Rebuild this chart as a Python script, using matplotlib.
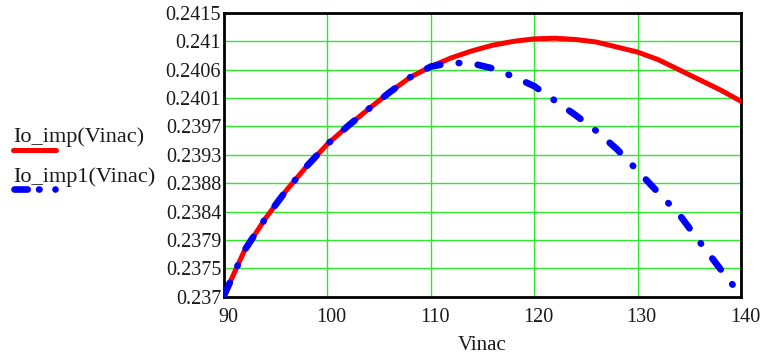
"""
Output current vs. input voltage: Io_imp and Io_imp1 over Vinac.
"""

import numpy as np
import matplotlib.pyplot as plt
from matplotlib.lines import Line2D
from matplotlib.transforms import ScaledTranslation

plt.rcParams["font.family"] = ["Liberation Serif", "DejaVu Serif"]
plt.rcParams["lines.scale_dashes"] = False

# Io_imp(Vinac)
vinac = [90, 92, 94, 96, 98, 100, 102, 104, 106, 108, 110, 112, 114, 116,
         118, 120, 122, 124, 126, 128, 130, 132, 134, 136, 138, 140]
io_imp = [0.23702, 0.23774, 0.23824, 0.23868, 0.23907, 0.23942, 0.23971,
          0.23998, 0.24024, 0.24048, 0.24065, 0.24079, 0.24090, 0.24099,
          0.24105, 0.24109, 0.24110, 0.24108, 0.24104, 0.24096, 0.24088,
          0.24076, 0.24060, 0.24044, 0.24028, 0.24010]

# Io_imp1(Vinac)
vinac1 = [90, 92, 94, 96, 98, 100, 102, 104, 106, 108, 110, 112, 114, 116,
          118, 120, 122, 124, 126, 128, 130, 132, 134, 136, 138, 140]
io_imp1 = [0.23702, 0.23774, 0.23824, 0.23868, 0.23907, 0.23942, 0.23971,
           0.23998, 0.24024, 0.24048, 0.24065, 0.24071, 0.24070, 0.24062,
           0.24049, 0.24034, 0.24011, 0.23988, 0.23963, 0.23934, 0.23900,
           0.23865, 0.23831, 0.23787, 0.23744, 0.23702]

x_ticks = [90, 100, 110, 120, 130, 140]
y_ticks = np.linspace(0.237, 0.2415, 11)
y_labels = ["0.237", "0.2375", "0.2379", "0.2384", "0.2388", "0.2393",
            "0.2397", "0.2401", "0.2406", "0.241", "0.2415"]

W, H = 764, 356
fig = plt.figure(figsize=(W / 100, H / 100), dpi=100)
ax = fig.add_axes([224 / W, 1 - 296.7 / H, (741 - 224) / W, (296.7 - 13) / H])

red = "#ff0000"
blue = "#0000ff"
dashdot = (0, (10.0, 13.4, 0.4, 13.4))

ax.plot(vinac, io_imp, color=red, lw=3.6, solid_capstyle="round", zorder=3)
ax.plot(vinac1, io_imp1, color=blue, lw=4.8, linestyle=dashdot,
        dash_capstyle="round", zorder=4)

ax.set_xlim(90, 140)
ax.set_ylim(0.237, 0.2415)
ax.set_xticks(x_ticks)
ax.set_yticks(y_ticks)
ax.set_yticklabels(y_labels)
ax.grid(True, color="#2ee82e", lw=1.0)
ax.set_axisbelow(True)
ax.tick_params(length=0, labelsize=14.5, labelcolor="#1a1a1a")
ax.tick_params(axis="y", pad=2)
ax.tick_params(axis="x", pad=8)
shift = ScaledTranslation(4 / 100, 0, fig.dpi_scale_trans)
for lbl in ax.get_xticklabels():
    lbl.set_transform(lbl.get_transform() + shift)
for s in ax.spines.values():
    s.set_linewidth(2.0)
    s.set_color("black")
ax.set_xlabel("Vinac", fontsize=15, color="#1a1a1a", labelpad=6.5)

# legend drawn at the left of the plot
def fx(px):
    return px / W

def fy(py):
    return 1 - py / H

fig.text(fx(13), fy(141.7), "Io_imp(Vinac)", fontsize=16, color="#1a1a1a",
         va="baseline", ha="left")
fig.text(fx(13), fy(181.7), "Io_imp1(Vinac)", fontsize=16, color="#1a1a1a",
         va="baseline", ha="left")
fig.add_artist(Line2D([fx(13), fx(56)], [fy(150), fy(150)], color=red,
                      lw=3.6, solid_capstyle="round", transform=fig.transFigure))
fig.add_artist(Line2D([fx(14.4), fx(55)], [fy(189), fy(189)], color=blue,
                      lw=4.8, linestyle=(0, (9.5, 8.2, 0.3, 11.5, 0.3, 20)),
                      dash_capstyle="round", transform=fig.transFigure))

fig.savefig("out.png", dpi=100)
